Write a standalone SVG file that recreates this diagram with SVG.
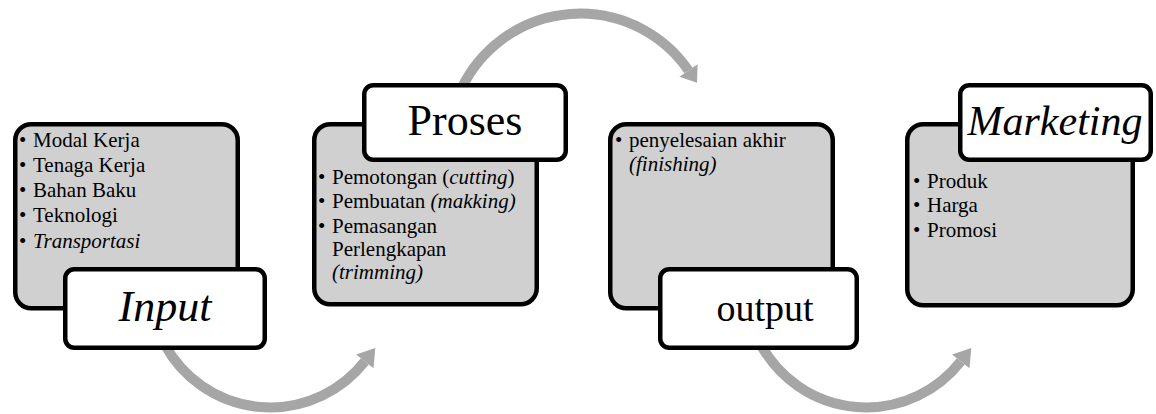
<svg xmlns="http://www.w3.org/2000/svg" width="1156" height="414" viewBox="0 0 1156 414">
<style>
.box{fill:#D0D0D0;stroke:#000;stroke-width:4.5}
.lbl{fill:#fff;stroke:#000;stroke-width:4.5}
text{font-family:'Liberation Serif','Times New Roman',serif;fill:#000}
.t{font-size:21px}
.h{font-size:44px;text-anchor:middle}
.i{font-style:italic}
.arc{fill:none;stroke:#A6A6A6;stroke-width:10}
.head{fill:#A6A6A6}
</style>
<rect width="1156" height="414" fill="#fff"/>
<g id="connectors">
<path class="arc" d="M 165 345 A 120 120 0 0 0 364.8 361.4"/>
<polygon class="head" points="375.3,348 373.5,368.2 356.1,354.6"/>
<path class="arc" d="M 461.7 88 A 131.5 131.5 0 0 1 688.5 70.5"/>
<polygon class="head" points="697,82.8 697.6,64.2 679.4,76.8"/>
<path class="arc" d="M 761 345 A 120 120 0 0 0 960.8 361.4"/>
<polygon class="head" points="971.3,348 969.5,368.2 952.1,354.6"/>
</g>
<g id="input">
<rect class="box" x="15.25" y="124.25" width="222.5" height="184" rx="16"/>
<text class="t" x="19" y="147">•</text><text class="t" x="33" y="147">Modal Kerja</text>
<text class="t" x="19" y="172">•</text><text class="t" x="33" y="172">Tenaga Kerja</text>
<text class="t" x="19" y="197">•</text><text class="t" x="33" y="197">Bahan Baku</text>
<text class="t" x="19" y="222">•</text><text class="t" x="33" y="222">Teknologi</text>
<text class="t" x="19" y="248">•</text><text class="t i" x="33" y="248">Transportasi</text>
<rect class="lbl" x="65.25" y="269.25" width="199.5" height="78.5" rx="9"/>
<text class="h i" x="165" y="321">Input</text>
</g>
<g id="proses">
<rect class="box" x="314.25" y="124.25" width="222.5" height="180" rx="16"/>
<text class="t" x="318" y="184">•</text><text class="t" x="332" y="184">Pemotongan (<tspan class="i">cutting</tspan>)</text>
<text class="t" x="318" y="208">•</text><text class="t" x="332" y="208">Pembuatan <tspan class="i">(makking)</tspan></text>
<text class="t" x="318" y="233">•</text><text class="t" x="332" y="233">Pemasangan</text>
<text class="t" x="332" y="256">Perlengkapan</text>
<text class="t i" x="332" y="279">(trimming)</text>
<rect class="lbl" x="364.25" y="85.25" width="201.5" height="74.5" rx="9"/>
<text class="h" x="465" y="135">Proses</text>
</g>
<g id="output">
<rect class="box" x="610.25" y="124.25" width="222.5" height="184" rx="16"/>
<text class="t" x="615" y="147">•</text><text class="t" x="629" y="147">penyelesaian akhir</text>
<text class="t i" x="629" y="171">(finishing)</text>
<rect class="lbl" x="660.25" y="269.25" width="196.5" height="78.5" rx="9"/>
<text class="h" x="765" y="321" style="font-size:38px">output</text>
</g>
<g id="marketing">
<rect class="box" x="907.25" y="124.25" width="225.5" height="181" rx="16"/>
<text class="t" x="913" y="188">•</text><text class="t" x="927" y="188">Produk</text>
<text class="t" x="913" y="212">•</text><text class="t" x="927" y="212">Harga</text>
<text class="t" x="913" y="237">•</text><text class="t" x="927" y="237">Promosi</text>
<rect class="lbl" x="960.25" y="85.25" width="190.5" height="74.5" rx="9"/>
<text class="h i" x="1055" y="135" style="font-size:42px">Marketing</text>
</g>
</svg>
